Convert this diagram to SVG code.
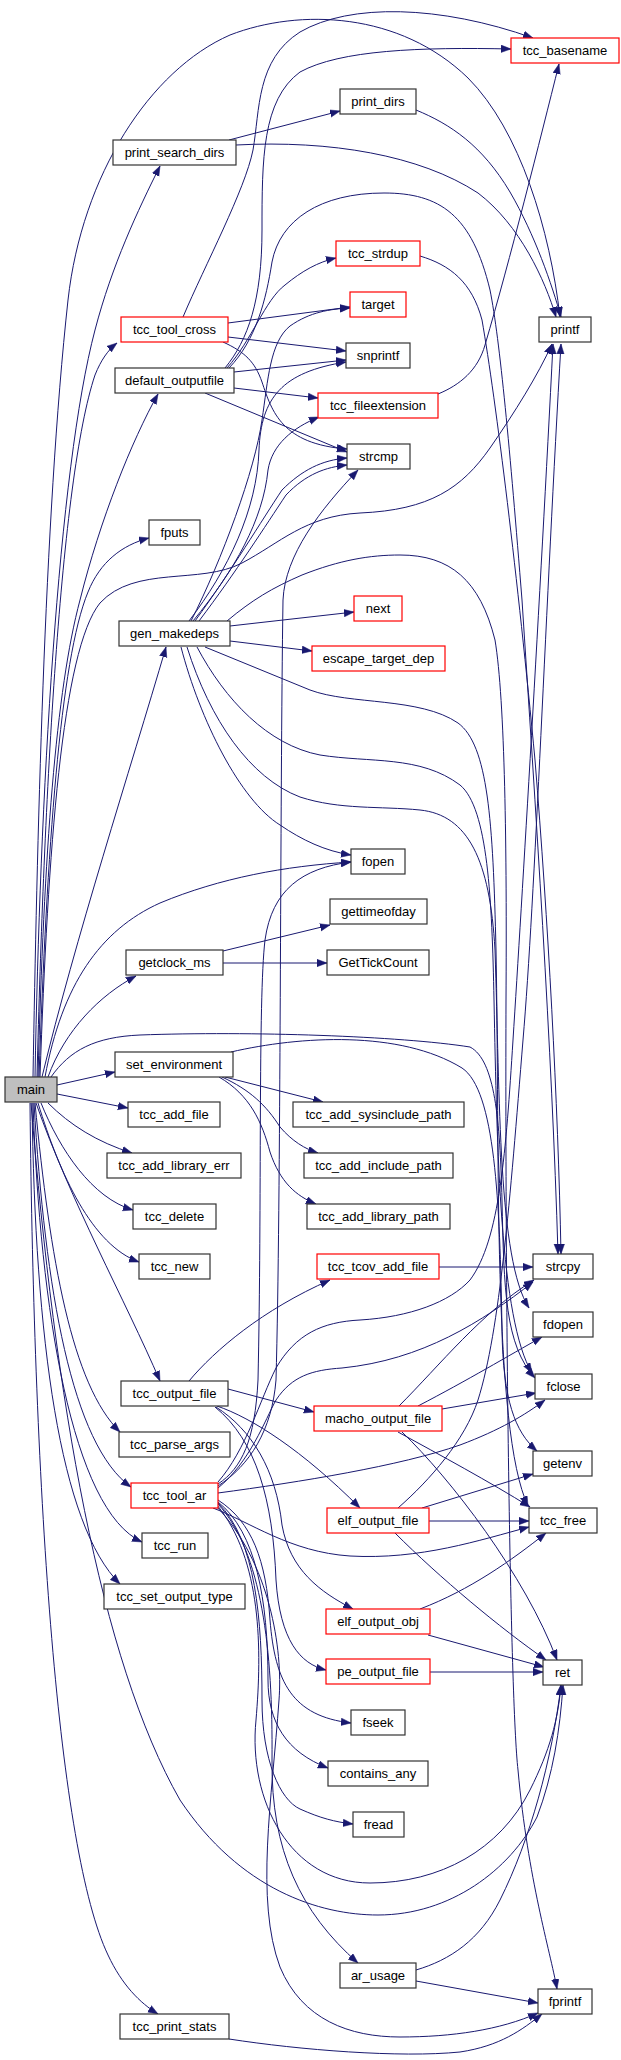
<svg xmlns="http://www.w3.org/2000/svg" width="621" height="2060" viewBox="0 0 621 2060">
<style>
.n rect{fill:#fff;stroke:#333;stroke-width:1.2}
.r rect{stroke:#f00}
.m rect{fill:#bfbfbf}
text{font-family:"Liberation Sans",Arial,Helvetica,sans-serif;font-size:13px;text-anchor:middle;fill:#000}
#edges path{fill:none;stroke:#191970;stroke-width:1;marker-end:url(#a)}
</style>
<defs>
<marker id="a" markerUnits="userSpaceOnUse" markerWidth="11" markerHeight="9" refX="10" refY="4" orient="auto" viewBox="0 0 11 9">
<path d="M0,0.3 L10,4 L0,7.7 Z" fill="#191970" stroke="#191970" stroke-width="0.5"/>
</marker>
</defs>
<rect width="621" height="2060" fill="#fff"/>
<g id="edges">
<path d="M33,1077 C37,850 44,520 68,300 C82,175 150,70 230,35 C300,8 400,12 468,78 C520,130 550,230 560,317"/>
<path d="M35,1077 C40,800 58,470 95,330 C112,265 138,210 160,166"/>
<path d="M37,1077 C44,800 60,480 95,375 C101,360 108,350 117,343"/>
<path d="M38,1077 C44,850 56,690 80,600 C100,520 132,440 158,394"/>
<path d="M39,1077 C47,850 60,660 88,592 C100,562 122,545 149,538"/>
<path d="M40,1077 C48,850 62,650 100,603 C135,565 200,585 242,563 C280,543 305,516 360,513 C430,510 462,488 490,448 C515,412 538,375 552,344"/>
<path d="M42,1077 C75,940 130,770 166,647"/>
<path d="M45,1077 C62,985 100,930 160,903 C220,878 285,866 351,862"/>
<path d="M48,1077 C65,1030 100,995 136,976"/>
<path d="M51,1077 C70,1050 95,1037 140,1035 C250,1031 400,1036 470,1047 C495,1060 500,1120 502,1200 C504,1290 505,1345 535,1378"/>
<path d="M57,1085 L115,1072"/>
<path d="M57,1094 L128,1108"/>
<path d="M48,1103 C70,1125 97,1142 132,1153"/>
<path d="M41,1103 C60,1150 92,1198 133,1210"/>
<path d="M38,1103 C60,1175 92,1245 139,1262"/>
<path d="M36,1103 C70,1200 125,1300 160,1381"/>
<path d="M35,1103 C50,1260 72,1385 120,1432"/>
<path d="M34,1103 C45,1290 72,1445 131,1487"/>
<path d="M33,1103 C40,1310 72,1510 142,1542"/>
<path d="M32,1103 C35,1340 60,1525 120,1584"/>
<path d="M30,1103 C34,1500 58,1850 108,1955 C122,1985 140,2003 158,2014"/>
<path d="M31,1103 C55,1400 100,1660 180,1800 C240,1890 320,1915 378,1915 C450,1915 510,1870 537,1817 C553,1775 560,1730 563,1685"/>
<path d="M229,140 L340,111"/>
<path d="M236,145 C330,140 420,155 478,193 C520,225 545,280 556,317"/>
<path d="M416,110 C450,124 482,145 510,192 C535,235 552,285 561,317"/>
<path d="M183,317 C205,265 245,190 253,150 C260,110 256,60 300,32 C350,3 440,5 533,38"/>
<path d="M228,323 L350,307"/>
<path d="M228,337 L346,351"/>
<path d="M223,342 C245,352 255,362 262,382 C272,412 282,444 347,449"/>
<path d="M225,368 C248,340 262,300 262,230 C262,160 262,100 300,72 C340,50 420,47 511,49"/>
<path d="M227,368 C252,340 265,300 285,285 C302,271 318,262 336,258"/>
<path d="M229,368 C256,340 266,300 272,262 C280,220 320,193 384,193 C440,193 472,215 490,290 C500,340 510,450 522,600 C535,800 552,1050 558,1254"/>
<path d="M234,372 L346,360"/>
<path d="M234,388 L318,398"/>
<path d="M205,393 L347,452"/>
<path d="M420,256 C450,265 472,282 482,320 C496,400 518,580 535,760 C548,920 558,1100 561,1254"/>
<path d="M438,394 C460,385 478,370 485,345 C510,260 540,140 559,64"/>
<path d="M191,621 C222,560 255,470 262,420 C268,380 270,342 290,326 C310,312 330,309 350,308"/>
<path d="M189,621 C228,570 257,510 259,450 C261,398 282,372 346,362"/>
<path d="M193,621 C235,570 263,520 268,470 C272,445 292,428 319,417"/>
<path d="M195,621 C232,570 262,520 282,490 C302,470 322,460 347,458"/>
<path d="M199,621 C236,572 266,525 286,495 C306,474 326,467 347,465"/>
<path d="M230,626 L354,612"/>
<path d="M230,641 L312,651"/>
<path d="M181,647 C200,720 240,800 280,825 C302,840 325,851 351,855"/>
<path d="M187,647 C210,720 250,778 300,797 C340,810 380,806 420,810 C468,815 490,860 495,950 C500,1100 498,1260 529,1308"/>
<path d="M197,647 C225,700 268,745 320,755 C370,763 420,755 460,785 C488,808 492,900 494,1000 C497,1150 500,1320 532,1373"/>
<path d="M205,647 L310,690 C350,705 420,697 458,723 C488,745 493,820 496,950 C500,1150 492,1430 528,1506"/>
<path d="M227,621 C252,600 272,588 302,575 C340,560 370,555 400,555 C450,555 480,580 495,640 C505,700 507,850 506,1000 C505,1300 510,1700 518,1770 C528,1880 550,1950 557,1989"/>
<path d="M223,951 L330,925"/>
<path d="M223,963 L327,963"/>
<path d="M225,1077 L323,1102"/>
<path d="M222,1077 C250,1090 266,1105 280,1127 C292,1141 305,1149 318,1153"/>
<path d="M219,1077 C250,1095 262,1122 270,1152 C280,1182 296,1196 316,1204"/>
<path d="M231,1052 C300,1036 400,1030 462,1068 C495,1090 500,1200 502,1330 C503,1400 515,1432 537,1451"/>
<path d="M439,1267 L533,1267"/>
<path d="M189,1381 C215,1350 262,1310 330,1280"/>
<path d="M228,1389 L314,1412"/>
<path d="M217,1406 C252,1418 302,1450 360,1508"/>
<path d="M216,1407 C252,1430 276,1470 282,1525 C290,1570 320,1592 353,1609"/>
<path d="M215,1407 C256,1440 273,1500 276,1580 C280,1640 300,1664 326,1670"/>
<path d="M399,1406 C440,1365 482,1312 534,1280"/>
<path d="M418,1406 C468,1380 508,1356 542,1337"/>
<path d="M442,1409 L536,1393"/>
<path d="M398,1432 C440,1455 490,1482 530,1507"/>
<path d="M402,1432 C450,1478 525,1575 557,1660"/>
<path d="M218,1484 C242,1468 255,1440 258,1380 C262,1200 258,1000 265,940 C272,890 302,868 351,862"/>
<path d="M218,1486 C250,1465 272,1430 276,1380 C281,1200 280,800 283,600 C285,555 320,510 358,470"/>
<path d="M218,1488 C250,1462 265,1420 276,1400 C292,1376 312,1370 342,1368 C422,1360 482,1322 533,1282"/>
<path d="M218,1482 C246,1450 260,1400 276,1368 C296,1334 322,1322 360,1320 C410,1317 450,1302 470,1280 C500,1240 506,1150 513,1040 C522,900 540,600 553,344"/>
<path d="M218,1493 C300,1482 400,1466 460,1445 C500,1430 525,1415 545,1400"/>
<path d="M213,1508 C250,1522 290,1552 350,1556 C420,1560 480,1540 529,1527"/>
<path d="M218,1500 C252,1522 266,1560 270,1620 C275,1682 292,1716 351,1723"/>
<path d="M218,1502 C256,1532 268,1600 268,1680 C268,1722 286,1752 328,1768"/>
<path d="M218,1503 C256,1540 262,1620 262,1700 C262,1760 280,1800 300,1809 C320,1818 335,1822 353,1824"/>
<path d="M218,1504 C262,1552 273,1650 272,1760 C271,1850 300,1912 358,1963"/>
<path d="M217,1505 C262,1560 262,1650 256,1720 C248,1800 290,1883 370,1883 C440,1883 500,1850 530,1790 C550,1750 558,1720 561,1685"/>
<path d="M216,1506 C270,1562 283,1650 279,1700 C272,1800 255,1900 280,1967 C302,2020 350,2037 400,2037 C452,2037 500,2030 538,2013"/>
<path d="M398,1508 C430,1480 465,1440 478,1400 C500,1330 510,1200 523,1040 C535,900 546,600 561,344"/>
<path d="M422,1508 L533,1474"/>
<path d="M429,1521 L529,1521"/>
<path d="M395,1533 C440,1578 500,1628 546,1660"/>
<path d="M420,1609 C470,1590 512,1560 546,1533"/>
<path d="M428,1635 L544,1667"/>
<path d="M430,1672 L543,1672"/>
<path d="M416,1981 L538,2003"/>
<path d="M416,1970 C450,1960 480,1940 500,1900 C530,1840 552,1760 561,1685"/>
<path d="M229,2039 C300,2050 400,2058 460,2052 C500,2046 522,2030 542,2014"/>
</g>
<g id="tcc_basename" class="n r"><rect x="511" y="38" width="108" height="25"/><text x="565" y="55">tcc_basename</text></g>
<g id="print_dirs" class="n"><rect x="340" y="89" width="76" height="25"/><text x="378" y="106">print_dirs</text></g>
<g id="print_search_dirs" class="n"><rect x="113" y="140" width="123" height="25"/><text x="174.5" y="157">print_search_dirs</text></g>
<g id="tcc_strdup" class="n r"><rect x="336" y="241" width="84" height="25"/><text x="378" y="258">tcc_strdup</text></g>
<g id="target" class="n r"><rect x="350" y="292" width="56" height="25"/><text x="378" y="309">target</text></g>
<g id="tcc_tool_cross" class="n r"><rect x="121" y="317" width="107" height="25"/><text x="174.5" y="334">tcc_tool_cross</text></g>
<g id="printf" class="n"><rect x="539" y="317" width="52" height="25"/><text x="565" y="334">printf</text></g>
<g id="snprintf" class="n"><rect x="346" y="343" width="64" height="25"/><text x="378" y="360">snprintf</text></g>
<g id="default_outputfile" class="n"><rect x="115" y="368" width="119" height="25"/><text x="174.5" y="385">default_outputfile</text></g>
<g id="tcc_fileextension" class="n r"><rect x="318" y="393" width="120" height="25"/><text x="378" y="410">tcc_fileextension</text></g>
<g id="strcmp" class="n"><rect x="347" y="444" width="63" height="25"/><text x="378.5" y="461">strcmp</text></g>
<g id="fputs" class="n"><rect x="149" y="520" width="51" height="25"/><text x="174.5" y="537">fputs</text></g>
<g id="next" class="n r"><rect x="354" y="596" width="48" height="25"/><text x="378" y="613">next</text></g>
<g id="gen_makedeps" class="n"><rect x="119" y="621" width="111" height="25"/><text x="174.5" y="638">gen_makedeps</text></g>
<g id="escape_target_dep" class="n r"><rect x="312" y="646" width="133" height="25"/><text x="378.5" y="663">escape_target_dep</text></g>
<g id="fopen" class="n"><rect x="351" y="849" width="54" height="25"/><text x="378" y="866">fopen</text></g>
<g id="gettimeofday" class="n"><rect x="330" y="899" width="97" height="25"/><text x="378.5" y="916">gettimeofday</text></g>
<g id="getclock_ms" class="n"><rect x="126" y="950" width="97" height="25"/><text x="174.5" y="967">getclock_ms</text></g>
<g id="GetTickCount" class="n"><rect x="327" y="950" width="102" height="25"/><text x="378" y="967">GetTickCount</text></g>
<g id="set_environment" class="n"><rect x="115" y="1052" width="118" height="25"/><text x="174" y="1069">set_environment</text></g>
<g id="main" class="n m"><rect x="5" y="1077" width="52" height="25"/><text x="31" y="1094">main</text></g>
<g id="tcc_add_file" class="n"><rect x="128" y="1102" width="92" height="25"/><text x="174" y="1119">tcc_add_file</text></g>
<g id="tcc_add_sysinclude_path" class="n"><rect x="293" y="1102" width="171" height="25"/><text x="378.5" y="1119">tcc_add_sysinclude_path</text></g>
<g id="tcc_add_library_err" class="n"><rect x="107" y="1153" width="134" height="25"/><text x="174" y="1170">tcc_add_library_err</text></g>
<g id="tcc_add_include_path" class="n"><rect x="304" y="1153" width="149" height="25"/><text x="378.5" y="1170">tcc_add_include_path</text></g>
<g id="tcc_delete" class="n"><rect x="133" y="1204" width="83" height="25"/><text x="174.5" y="1221">tcc_delete</text></g>
<g id="tcc_add_library_path" class="n"><rect x="307" y="1204" width="143" height="25"/><text x="378.5" y="1221">tcc_add_library_path</text></g>
<g id="tcc_new" class="n"><rect x="139" y="1254" width="71" height="25"/><text x="174.5" y="1271">tcc_new</text></g>
<g id="tcc_tcov_add_file" class="n r"><rect x="317" y="1254" width="122" height="25"/><text x="378" y="1271">tcc_tcov_add_file</text></g>
<g id="strcpy" class="n"><rect x="533" y="1254" width="60" height="25"/><text x="563" y="1271">strcpy</text></g>
<g id="fdopen" class="n"><rect x="533" y="1312" width="60" height="25"/><text x="563" y="1329">fdopen</text></g>
<g id="fclose" class="n"><rect x="535" y="1374" width="57" height="25"/><text x="563.5" y="1391">fclose</text></g>
<g id="tcc_output_file" class="n"><rect x="121" y="1381" width="107" height="25"/><text x="174.5" y="1398">tcc_output_file</text></g>
<g id="macho_output_file" class="n r"><rect x="314" y="1406" width="128" height="25"/><text x="378" y="1423">macho_output_file</text></g>
<g id="tcc_parse_args" class="n"><rect x="119" y="1432" width="111" height="25"/><text x="174.5" y="1449">tcc_parse_args</text></g>
<g id="getenv" class="n"><rect x="533" y="1451" width="59" height="25"/><text x="562.5" y="1468">getenv</text></g>
<g id="tcc_tool_ar" class="n r"><rect x="131" y="1483" width="87" height="25"/><text x="174.5" y="1500">tcc_tool_ar</text></g>
<g id="elf_output_file" class="n r"><rect x="327" y="1508" width="102" height="25"/><text x="378" y="1525">elf_output_file</text></g>
<g id="tcc_free" class="n"><rect x="529" y="1508" width="68" height="25"/><text x="563" y="1525">tcc_free</text></g>
<g id="tcc_run" class="n"><rect x="142" y="1533" width="66" height="25"/><text x="175" y="1550">tcc_run</text></g>
<g id="tcc_set_output_type" class="n"><rect x="104" y="1584" width="141" height="25"/><text x="174.5" y="1601">tcc_set_output_type</text></g>
<g id="elf_output_obj" class="n r"><rect x="326" y="1609" width="104" height="25"/><text x="378" y="1626">elf_output_obj</text></g>
<g id="ret" class="n"><rect x="543" y="1660" width="39" height="25"/><text x="562.5" y="1677">ret</text></g>
<g id="pe_output_file" class="n r"><rect x="326" y="1659" width="104" height="25"/><text x="378" y="1676">pe_output_file</text></g>
<g id="fseek" class="n"><rect x="351" y="1710" width="54" height="25"/><text x="378" y="1727">fseek</text></g>
<g id="contains_any" class="n"><rect x="328" y="1761" width="100" height="25"/><text x="378" y="1778">contains_any</text></g>
<g id="fread" class="n"><rect x="353" y="1812" width="51" height="25"/><text x="378.5" y="1829">fread</text></g>
<g id="ar_usage" class="n"><rect x="340" y="1963" width="76" height="25"/><text x="378" y="1980">ar_usage</text></g>
<g id="fprintf" class="n"><rect x="538" y="1989" width="54" height="25"/><text x="565" y="2006">fprintf</text></g>
<g id="tcc_print_stats" class="n"><rect x="120" y="2014" width="109" height="25"/><text x="174.5" y="2031">tcc_print_stats</text></g>
</svg>
